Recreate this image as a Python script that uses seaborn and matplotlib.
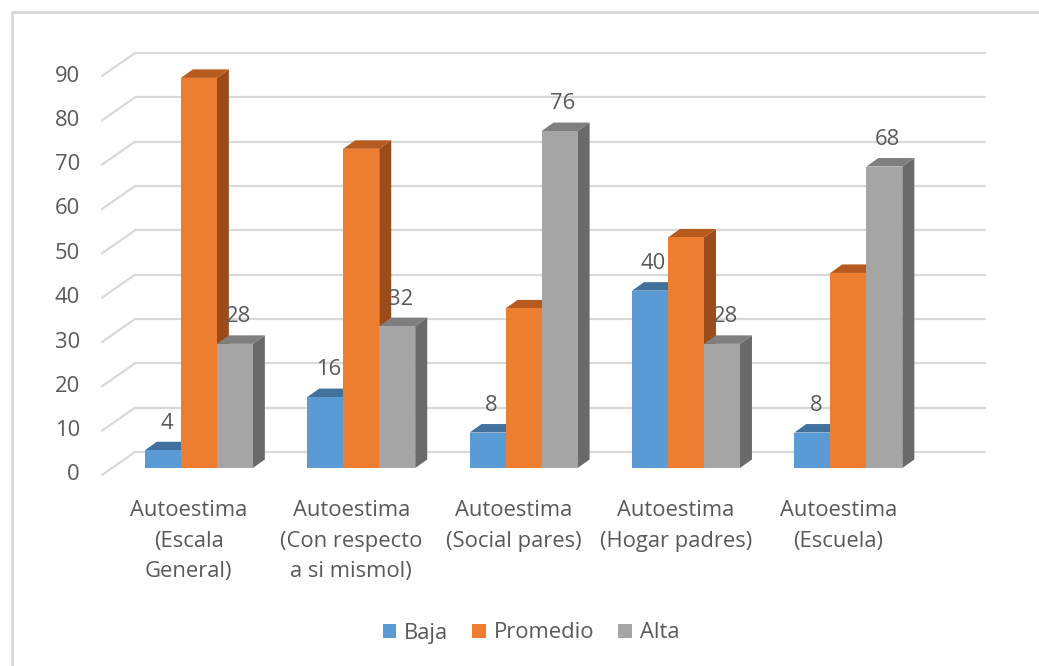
import matplotlib
matplotlib.use("Agg")
import matplotlib.pyplot as plt
from matplotlib.transforms import ScaledTranslation
from matplotlib.patches import Polygon, Patch
from matplotlib.lines import Line2D
import seaborn as sns
import pandas as pd

categorias = [
    "Autoestima\n(Escala\nGeneral)",
    "Autoestima\n(Con respecto\na si mismol)",
    "Autoestima\n(Social pares)",
    "Autoestima\n(Hogar padres)",
    "Autoestima\n(Escuela)",
]
niveles = ["Baja", "Promedio", "Alta"]
baja = [4, 16, 8, 40, 8]
promedio = [88, 72, 36, 52, 44]
alta = [28, 32, 76, 28, 68]
y_ticks = [0, 10, 20, 30, 40, 50, 60, 70, 80, 90]

frente = {"Baja": "#5B9BD5", "Promedio": "#ED7D31", "Alta": "#A5A5A5"}
techo = {"Baja": "#41719C", "Promedio": "#B65A1F", "Alta": "#7F7F7F"}
lado = {"Baja": "#41719C", "Promedio": "#9C4B1B", "Alta": "#6A6A6A"}
texto = "#595959"
rejilla = "#D9D9D9"

df = pd.DataFrame({
    "categoria": categorias * 3,
    "nivel": [n for n in niveles for _ in categorias],
    "valor": baja + promedio + alta,
})

sns.set_theme(style="white")
plt.rcParams["font.family"] = ["Open Sans", "DejaVu Sans"]
FS = 15.8

W, H, DPI = 1039, 666, 100
fig = plt.figure(figsize=(W / DPI, H / DPI), dpi=DPI)
ax_left, ax_right, ax_bottom, ax_top = 112, 962, 468, 69
ax = fig.add_axes([ax_left / W, 1 - ax_bottom / H,
                   (ax_right - ax_left) / W, (ax_bottom - ax_top) / H])

sns.barplot(data=df, x="categoria", y="valor", hue="nivel", order=categorias,
            hue_order=niveles, palette=frente, width=0.665, saturation=1,
            legend=False, ax=ax)

ax.set_xlim(-0.535, 4.70)
ax.set_ylim(0, 90)
for s in ax.spines.values():
    s.set_visible(False)
ax.set_xticks([])
ax.set_yticks([])
ax.set_xlabel("")
ax.set_ylabel("")
ax.patch.set_alpha(0)

# pixel -> data scale
xmin, xmax = ax.get_xlim()
px_x = (ax_right - ax_left) / (xmax - xmin)
px_y = (ax_bottom - ax_top) / 90.0
dx_bar, dy_bar = 12 / px_x, 8.5 / px_y


def shift(px, py):
    """Offset in screen pixels: px to the right, py downwards."""
    return ScaledTranslation(px / DPI, -py / DPI, fig.dpi_scale_trans)


# back wall gridlines
yax = ax.get_yaxis_transform()
for v in y_ticks:
    ax.plot([0, 1], [v, v], transform=yax + shift(23, -16), color=rejilla,
            lw=1.6, zorder=0, clip_on=False)

# left wall diagonals and value axis labels
fig.canvas.draw()
for v in y_ticks:
    x0, y0 = ax.transData.transform((xmin, v))
    fig.add_artist(Line2D([x0 - 10, x0 + 23], [y0 - 7, y0 + 16],
                          transform=None, color=rejilla, lw=1.6, zorder=0))
    ax.text(0, v, str(v), transform=yax + shift(-32, 7), ha="right",
            va="center", fontsize=FS, color=texto)

# 3D faces for every bar
for cont, nivel in zip(ax.containers, niveles):
    for rect in cont:
        x0 = rect.get_x()
        x1 = x0 + rect.get_width()
        h = rect.get_height()
        rect.set_zorder(3)
        rect.set_edgecolor("none")
        ax.add_patch(Polygon([(x1, 0), (x1, h), (x1 + dx_bar, h + dy_bar),
                              (x1 + dx_bar, dy_bar)], closed=True,
                             facecolor=lado[nivel], edgecolor="none",
                             zorder=2, clip_on=False))
        ax.add_patch(Polygon([(x0, h), (x1, h), (x1 + dx_bar, h + dy_bar),
                              (x0 + dx_bar, h + dy_bar)], closed=True,
                             facecolor=techo[nivel], edgecolor="none",
                             zorder=2, clip_on=False))
        if nivel in ("Baja", "Alta"):
            ax.annotate(f"{h:g}", (x0 + rect.get_width() / 2, h),
                        xytext=(2.5, 19.5), textcoords="offset points",
                        ha="center", va="center", fontsize=FS, color=texto,
                        zorder=5, annotation_clip=False)

# category labels on the front edge of the floor
xax = ax.get_xaxis_transform()
for i, c in enumerate(categorias):
    ax.text(i, 0, c, transform=xax + shift(-10, 32), ha="center", va="top",
            fontsize=FS, color=texto, linespacing=1.6)

# legend
handles = [Patch(facecolor=frente[n], edgecolor="none") for n in niveles]
fig.legend(handles, niveles, loc="center", bbox_to_anchor=(531 / W, 1 - 633 / H),
           ncol=3, frameon=False, fontsize=FS, labelcolor=texto,
           handlelength=0.62, handleheight=0.62, handletextpad=0.35,
           columnspacing=1.1)

# chart area border (top and left edges)
fig.add_artist(Line2D([12, 12], [0, H - 12], transform=None, color=rejilla, lw=2))
fig.add_artist(Line2D([12, W], [H - 12, H - 12], transform=None, color=rejilla, lw=2))

fig.savefig("out.png", dpi=DPI)
